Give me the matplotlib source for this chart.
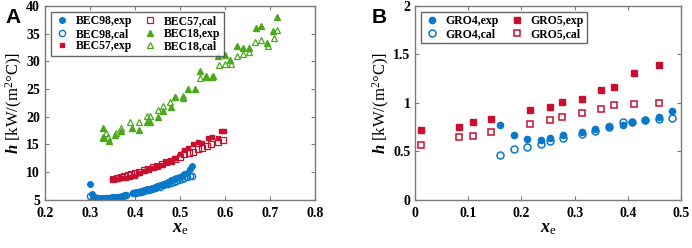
"""Heat transfer coefficient vs. vapour quality, two panels (A: BEC, B: GRO)"""

import numpy as np
import matplotlib.pyplot as plt
from matplotlib.ticker import FormatStrFormatter

plt.rcParams['font.family'] = ['Liberation Serif', 'DejaVu Serif']
plt.rcParams['mathtext.fontset'] = 'custom'
plt.rcParams['mathtext.rm'] = 'Liberation Serif'
plt.rcParams['mathtext.it'] = 'Liberation Serif:italic'
plt.rcParams['mathtext.bf'] = 'Liberation Serif:bold'
plt.rcParams['mathtext.bfit'] = 'Liberation Serif:bold:italic'

# ---- panel A data ----
bec98_exp_x = [0.300, 0.305, 0.312, 0.318, 0.324, 0.330, 0.336, 0.342, 0.348, 0.354, 0.360,
               0.366, 0.372, 0.378, 0.396, 0.402, 0.408, 0.414, 0.420, 0.426, 0.432, 0.438,
               0.444, 0.450, 0.456, 0.462, 0.468, 0.474, 0.480, 0.486, 0.492, 0.498, 0.504,
               0.510, 0.516, 0.522, 0.526]
bec98_exp_y = [7.9, 6.0, 5.6, 5.4, 5.3, 5.3, 5.4, 5.4, 5.5, 5.5, 5.6,
               5.6, 5.7, 5.8, 6.3, 6.4, 6.5, 6.6, 6.7, 6.9, 7.0, 7.1,
               7.3, 7.5, 7.7, 7.9, 8.1, 8.3, 8.5, 8.7, 8.9, 9.1, 9.3,
               9.6, 9.9, 10.5, 11.2]
bec98_cal_x = [0.300, 0.308, 0.314, 0.320, 0.326, 0.332, 0.338, 0.344, 0.350, 0.356, 0.362,
               0.368, 0.374, 0.380, 0.396, 0.402, 0.408, 0.414, 0.420, 0.426, 0.432, 0.438,
               0.444, 0.450, 0.456, 0.462, 0.468, 0.474, 0.480, 0.486, 0.492, 0.498, 0.504,
               0.510, 0.516, 0.522, 0.526]
bec98_cal_y = [5.7, 5.2, 5.1, 5.1, 5.2, 5.2, 5.3, 5.3, 5.4, 5.4, 5.5,
               5.6, 5.7, 5.9, 6.2, 6.3, 6.4, 6.5, 6.6, 6.7, 6.8, 7.0,
               7.1, 7.3, 7.4, 7.6, 7.8, 7.9, 8.1, 8.3, 8.4, 8.6, 8.7,
               8.9, 9.1, 9.3, 9.4]
bec57_exp_x = [0.350, 0.356, 0.362, 0.370, 0.380, 0.390, 0.400, 0.410, 0.420, 0.430, 0.440,
               0.450, 0.460, 0.470, 0.480, 0.490, 0.500, 0.510, 0.519, 0.530, 0.541, 0.550,
               0.562, 0.572, 0.584, 0.592, 0.598]
bec57_exp_y = [8.7, 8.7, 8.7, 8.9, 9.0, 9.1, 9.4, 9.8, 10.2, 10.5, 10.8,
               11.1, 11.3, 11.8, 12.1, 12.5, 13.2, 14.0, 14.4, 15.0, 15.4, 15.2,
               16.1, 16.4, 16.1, 17.4, 17.4]
bec57_cal_x = [0.352, 0.360, 0.368, 0.376, 0.384, 0.392, 0.400, 0.410, 0.420, 0.430, 0.440,
               0.450, 0.460, 0.470, 0.480, 0.490, 0.500, 0.510, 0.520, 0.530, 0.540, 0.550,
               0.560, 0.570, 0.585, 0.596]
bec57_cal_y = [8.8, 8.9, 9.1, 9.3, 9.5, 9.7, 9.9, 10.1, 10.4, 10.6, 10.9,
               11.2, 11.5, 11.8, 12.1, 12.4, 12.7, 13.2, 13.5, 13.7, 14.2, 14.4,
               14.8, 15.0, 15.5, 15.8]
bec18_exp_x = [0.330, 0.328, 0.343, 0.356, 0.370, 0.393, 0.410, 0.426, 0.433, 0.452, 0.463,
               0.480, 0.490, 0.506, 0.519, 0.533, 0.544, 0.559, 0.573, 0.585, 0.600, 0.611,
               0.626, 0.641, 0.654, 0.669, 0.681, 0.693, 0.707, 0.715]
bec18_exp_y = [17.9, 16.4, 15.7, 16.7, 17.4, 17.9, 17.7, 19.0, 19.0, 20.0, 21.1,
               21.7, 23.6, 23.3, 25.0, 25.0, 28.3, 27.3, 27.3, 31.0, 31.2, 30.3,
               32.8, 32.5, 32.5, 36.0, 36.3, 33.4, 35.5, 38.0]
bec18_cal_x = [0.328, 0.336, 0.340, 0.358, 0.370, 0.390, 0.410, 0.426, 0.433, 0.452, 0.463,
               0.478, 0.490, 0.506, 0.544, 0.558, 0.571, 0.586, 0.600, 0.613, 0.627, 0.641,
               0.654, 0.668, 0.681, 0.695, 0.709, 0.715]
bec18_cal_y = [16.1, 17.0, 16.4, 17.1, 18.0, 19.1, 19.1, 20.2, 20.2, 21.2, 22.0,
               22.6, 23.6, 23.8, 27.0, 27.2, 27.2, 29.3, 29.6, 29.5, 31.0, 31.3,
               31.6, 33.5, 33.9, 32.8, 34.3, 35.7]

# ---- panel B data ----
gro4_exp_x = [0.159, 0.186, 0.211, 0.236, 0.253, 0.279, 0.314, 0.339, 0.364, 0.391, 0.408,
              0.433, 0.459, 0.484]
gro4_exp_y = [0.77, 0.67, 0.63, 0.62, 0.64, 0.67, 0.70, 0.73, 0.76, 0.77, 0.80,
              0.82, 0.85, 0.92]
gro4_cal_x = gro4_exp_x
gro4_cal_y = [0.46, 0.52, 0.55, 0.58, 0.61, 0.64, 0.68, 0.71, 0.75, 0.80, 0.80,
              0.82, 0.83, 0.84]
gro5_exp_x = [0.011, 0.083, 0.108, 0.143, 0.216, 0.253, 0.277, 0.314, 0.350, 0.374, 0.411, 0.458]
gro5_exp_y = [0.72, 0.75, 0.80, 0.83, 0.93, 0.96, 1.01, 1.04, 1.13, 1.16, 1.31, 1.39]
gro5_cal_x = gro5_exp_x
gro5_cal_y = [0.57, 0.65, 0.66, 0.70, 0.78, 0.82, 0.85, 0.90, 0.94, 0.98, 0.99, 1.00]

blue = '#0a78c8'
red = '#c8102e'
green = '#4aa81a'

fig = plt.figure(figsize=(6.92, 2.48), dpi=100)
axA = fig.add_axes([0.065, 0.194, 0.390, 0.782])
axB = fig.add_axes([0.600, 0.194, 0.384, 0.782])


def style_axis(ax):
    for s in ax.spines.values():
        s.set_color('#7a7a7a')
        s.set_linewidth(1.0)
    ax.tick_params(direction='in', top=True, right=True, length=3, width=0.8,
                   color='#7a7a7a', labelsize=10)
    ax.tick_params(axis='x', pad=5)
    ax.tick_params(axis='y', pad=3.5)
    for lab in ax.get_xticklabels() + ax.get_yticklabels():
        lab.set_fontweight('bold')
    ax.set_xlabel(r'$\mathbfit{x}_{\mathrm{e}}$', fontsize=13, labelpad=0)
    ax.set_ylabel(r'$\mathbfit{h}$ [kW/(m$^{2}$°C)]', fontsize=12, labelpad=1)


def style_legend(leg):
    leg.get_frame().set_edgecolor('#404040')
    leg.get_frame().set_linewidth(1.0)


leg_kw = dict(loc='upper left', ncol=2, prop={'weight': 'bold', 'size': 8.5},
              frameon=True, fancybox=False, borderpad=0.3, labelspacing=0.05,
              handletextpad=0.5, columnspacing=0.9, handlelength=1.3, borderaxespad=0)

# panel A
axA.plot(bec98_exp_x, bec98_exp_y, 'o', color=blue, ms=4, ls='none', label='BEC98,exp')
axA.plot(bec98_cal_x, bec98_cal_y, 'o', mfc='none', mec=blue, mew=1.0, ms=4.5, ls='none',
         label='BEC98,cal')
axA.plot(bec57_exp_x, bec57_exp_y, 's', color=red, ms=3.5, ls='none', label='BEC57,exp')
axA.plot(bec57_cal_x, bec57_cal_y, 's', mfc='none', mec=red, mew=0.9, ms=4, ls='none',
         label='BEC57,cal')
axA.plot(bec18_exp_x, bec18_exp_y, '^', color=green, ms=4, ls='none', label='BEC18,exp')
axA.plot(bec18_cal_x, bec18_cal_y, '^', mfc='none', mec=green, mew=0.9, ms=5, ls='none',
         label='BEC18,cal')
axA.set_xlim(0.2, 0.8)
axA.set_ylim(5, 40)
axA.set_xticks(np.arange(0.2, 0.81, 0.1))
axA.set_yticks(np.arange(5, 41, 5))
axA.xaxis.set_major_formatter(FormatStrFormatter('%.1f'))
style_axis(axA)
style_legend(axA.legend(bbox_to_anchor=(0.022, 0.97), **leg_kw))

# panel B
axB.plot(gro4_exp_x, gro4_exp_y, 'o', color=blue, ms=4.5, ls='none', label='GRO4,exp')
axB.plot(gro4_cal_x, gro4_cal_y, 'o', mfc='none', mec=blue, mew=1.1, ms=5, ls='none',
         label='GRO4,cal')
axB.plot(gro5_exp_x, gro5_exp_y, 's', color=red, ms=4, ls='none', label='GRO5,exp')
axB.plot(gro5_cal_x, gro5_cal_y, 's', mfc='none', mec=red, mew=1.1, ms=5, ls='none',
         label='GRO5,cal')
axB.set_xlim(0, 0.5)
axB.set_ylim(0, 2)
axB.set_xticks(np.arange(0, 0.51, 0.1))
axB.set_yticks(np.arange(0, 2.01, 0.5))
axB.xaxis.set_major_formatter(FormatStrFormatter('%g'))
axB.yaxis.set_major_formatter(FormatStrFormatter('%g'))
style_axis(axB)
style_legend(axB.legend(bbox_to_anchor=(0.02, 0.97), **leg_kw))

fig.text(0.008, 0.93, 'A', fontsize=15, fontweight='bold', family='Liberation Sans', va='center')
fig.text(0.537, 0.93, 'B', fontsize=15, fontweight='bold', family='Liberation Sans', va='center')

fig.savefig('out.png', dpi=100)
